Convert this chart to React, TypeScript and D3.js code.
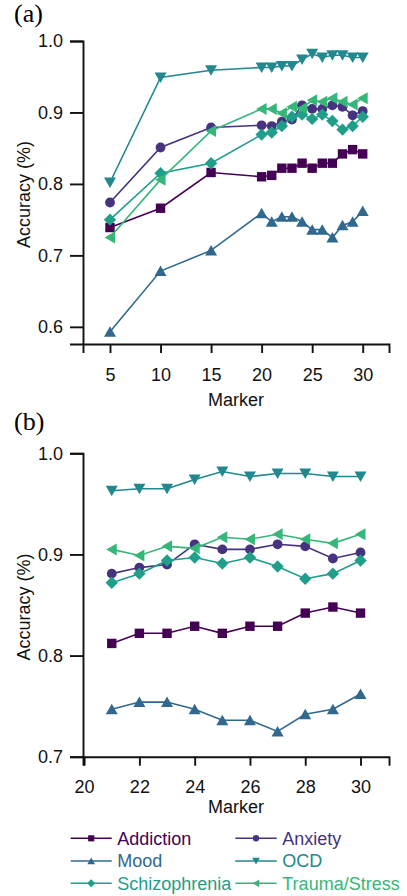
import React, { useEffect, useRef } from "react";
import * as d3 from "d3";

// markers used in panel (a) and panel (b)
const markersA = [5, 10, 15, 20, 21, 22, 23, 24, 25, 26, 27, 28, 29, 30];
const markersB = [21, 22, 23, 24, 25, 26, 27, 28, 29, 30];

// accuracy (panel a = first 4 points + panel b values)
const addiction = [0.739, 0.766, 0.816, 0.81, 0.812, 0.822, 0.822, 0.829, 0.822, 0.829, 0.829, 0.842, 0.848, 0.842];
const anxiety = [0.774, 0.851, 0.879, 0.882, 0.881, 0.887, 0.89, 0.91, 0.905, 0.905, 0.91, 0.908, 0.896, 0.902];
const mood = [0.593, 0.678, 0.707, 0.759, 0.747, 0.754, 0.754, 0.747, 0.736, 0.736, 0.725, 0.742, 0.747, 0.762];
const ocd = [0.802, 0.949, 0.959, 0.963, 0.963, 0.965, 0.965, 0.974, 0.982, 0.977, 0.98, 0.98, 0.977, 0.977];
const schizophrenia = [0.75, 0.815, 0.829, 0.869, 0.872, 0.881, 0.894, 0.897, 0.891, 0.897, 0.888, 0.876, 0.881, 0.894];
const trauma = [0.725, 0.806, 0.874, 0.905, 0.905, 0.899, 0.908, 0.906, 0.917, 0.915, 0.92, 0.915, 0.911, 0.92];

const yTicksA = [0.6, 0.7, 0.8, 0.9, 1.0];
const yTicksB = [0.7, 0.8, 0.9, 1.0];
const xTicksA = [5, 10, 15, 20, 25, 30];
const xTicksB = [20, 22, 24, 26, 28, 30];

const series = [
  { name: "Addiction", values: addiction, color: "#440154", shape: "square" },
  { name: "Anxiety", values: anxiety, color: "#46327e", shape: "circle" },
  { name: "Mood", values: mood, color: "#31688e", shape: "up" },
  { name: "OCD", values: ocd, color: "#21888d", shape: "down" },
  { name: "Schizophrenia", values: schizophrenia, color: "#1f9e89", shape: "diamond" },
  { name: "Trauma/Stress", values: trauma, color: "#35b779", shape: "left" },
];

const FONT = "'Liberation Sans', Arial, sans-serif";

// marker path centred on 0,0
const markerPath = (shape, k = 1) => {
  const s = (v) => v * k;
  switch (shape) {
    case "square":
      return `M${s(-4.7)},${s(-4.7)}h${s(9.4)}v${s(9.4)}h${s(-9.4)}Z`;
    case "circle": {
      const r = s(4.9);
      return `M${r},0A${r},${r} 0 1,1 ${-r},0A${r},${r} 0 1,1 ${r},0Z`;
    }
    case "up":
      return `M0,${s(-5.5)}L${s(6)},${s(5)}L${s(-6)},${s(5)}Z`;
    case "down":
      return `M0,${s(5.5)}L${s(6)},${s(-5)}L${s(-6)},${s(-5)}Z`;
    case "left":
      return `M${s(-5.5)},0L${s(5)},${s(-6)}L${s(5)},${s(6)}Z`;
    default:
      return `M0,${s(-6.2)}L${s(6.2)},0L0,${s(6.2)}L${s(-6.2)},0Z`;
  }
};

const App = () => {
  const svgRef = useRef();

  useEffect(() => {
    const svg = d3.select(svgRef.current);
    svg.selectAll("*").remove();

    const drawPanel = (opts) => {
      const { xs, offset, xDomain, yDomain, yRange, xTicks, yTicks, yFmt, label, labelY, markerY } = opts;
      const x = d3.scaleLinear().domain(xDomain).range([83, 389]);
      const y = d3.scaleLinear().domain(yDomain).range(yRange);
      const g = svg.append("g");

      // panel letter
      g.append("text")
        .attr("x", 14)
        .attr("y", labelY)
        .style("font-family", "'Liberation Serif', 'Times New Roman', serif")
        .style("font-size", "26px")
        .text(label);

      const xAxis = g.append("g")
        .attr("transform", `translate(0,${yRange[0]})`)
        .call(d3.axisBottom(x).tickValues(xTicks).tickSizeOuter(0).tickSize(9).tickPadding(15));
      const yAxis = g.append("g")
        .attr("transform", "translate(83,0)")
        .call(d3.axisLeft(y).tickValues(yTicks).tickFormat(yFmt).tickSizeOuter(0).tickSize(13).tickPadding(7));
      [xAxis, yAxis].forEach((ax) => {
        ax.selectAll("path, line").attr("stroke", "#111").attr("stroke-width", 1.9);
        ax.selectAll("text").style("font-family", FONT).style("font-size", "18px").attr("fill", "#111");
      });

      g.append("text")
        .attr("x", 236)
        .attr("y", markerY)
        .attr("text-anchor", "middle")
        .style("font-family", FONT)
        .style("font-size", "18px")
        .attr("fill", "#111")
        .text("Marker");

      g.append("text")
        .attr("transform", `translate(30,${(yRange[0] + yRange[1]) / 2 + 2}) rotate(-90)`)
        .attr("text-anchor", "middle")
        .style("font-family", FONT)
        .style("font-size", "18px")
        .attr("fill", "#111")
        .text("Accuracy (%)");

      const line = d3.line()
        .x((d) => x(d[0]))
        .y((d) => y(d[1]));

      series.forEach((s) => {
        const pts = xs.map((m, i) => [m, s.values[i + offset]]);
        g.append("path")
          .datum(pts)
          .attr("fill", "none")
          .attr("stroke", s.color)
          .attr("stroke-width", 1.6)
          .attr("d", line);
        g.selectAll(null)
          .data(pts)
          .join("path")
          .attr("transform", (d) => `translate(${x(d[0])},${y(d[1])})`)
          .attr("d", markerPath(s.shape))
          .attr("fill", s.color);
      });
    };

    drawPanel({
      xs: markersA,
      offset: 0,
      xDomain: [2.33, 32.6],
      yDomain: [0.576, 1.0],
      yRange: [344, 41],
      xTicks: xTicksA,
      yTicks: yTicksA,
      yFmt: d3.format(".1f"),
      label: "(a)",
      labelY: 22,
      markerY: 406,
    });

    drawPanel({
      xs: markersB,
      offset: 4,
      xDomain: [19.96, 31.03],
      yDomain: [0.7, 1.0],
      yRange: [756.7, 453.3],
      xTicks: xTicksB,
      yTicks: yTicksB,
      yFmt: d3.format(".1f"),
      label: "(b)",
      labelY: 430,
      markerY: 813,
    });

    // legend
    const rows = [838.3, 861, 883.3];
    const cols = [
      { x0: 70.7, x1: 111.7, tx: 117.3 },
      { x0: 235.3, x1: 276.7, tx: 282.3 },
    ];
    series.forEach((s, i) => {
      const c = cols[i % 2];
      const cy = rows[Math.floor(i / 2)];
      const lg = svg.append("g");
      lg.append("line")
        .attr("x1", c.x0)
        .attr("x2", c.x1)
        .attr("y1", cy)
        .attr("y2", cy)
        .attr("stroke", s.color)
        .attr("stroke-width", 1.6);
      lg.append("path")
        .attr("transform", `translate(${(c.x0 + c.x1) / 2},${cy})`)
        .attr("d", markerPath(s.shape, 0.65))
        .attr("fill", s.color);
      lg.append("text")
        .attr("x", c.tx)
        .attr("y", cy + 6.4)
        .style("font-family", FONT)
        .style("font-size", "18px")
        .attr("fill", s.color)
        .text(s.name);
    });
  }, []);

  return (
    <svg ref={svgRef} width={407} height={896} style={{ position: "absolute", left: 0, top: 0 }}></svg>
  );
};

export default App;
